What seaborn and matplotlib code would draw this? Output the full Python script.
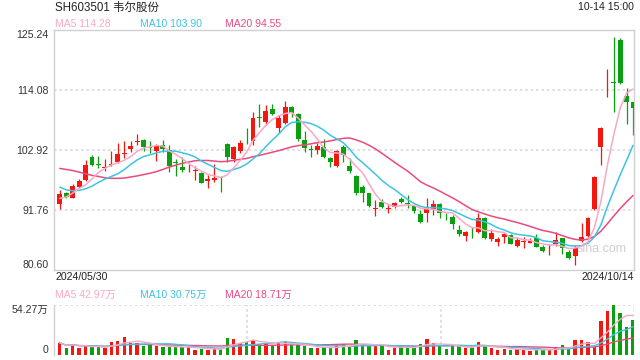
import numpy as np
import pandas as pd
import seaborn as sns
import matplotlib
matplotlib.use("Agg")
import matplotlib.pyplot as plt

# daily candles SH603501, 2024/05/30 .. 2024/10/14 (90 trading days)
opens = [92.88, 94.86, 94.05, 96.04, 97.28, 101.56, 100.32, 99.63, 100.13, 100.75,
         102.18, 103.11, 104.35, 104.78, 103.42, 102.73, 103.85, 102.92, 100.62, 99.76,
         99.14, 99.01, 98.58, 97.22, 97.34, 97.84, 104.04, 101.25, 102.73, 105.59,
         104.66, 109.00, 108.07, 110.55, 107.07, 108.00, 110.98, 109.62, 104.78, 103.11,
         102.92, 103.42, 101.49, 99.94, 103.42, 99.94, 98.08, 96.10, 94.86, 92.01,
         93.31, 92.01, 92.38, 93.81, 93.06, 92.50, 91.01, 91.26, 91.95, 92.81,
         90.71, 90.52, 88.04, 86.92, 87.92, 87.61, 90.33, 86.37, 85.87, 86.68,
         87.11, 85.13, 85.81, 85.68, 86.49, 84.82, 85.00, 85.44, 86.49, 83.89,
         83.27, 85.99, 86.99, 91.95, 103.54, 117.90, 115.51, 123.38, 112.96, 111.79]
highs = [95.48, 95.17, 96.60, 97.53, 101.06, 101.99, 101.81, 101.18, 102.73, 104.28,
         104.53, 104.66, 105.90, 104.97, 104.66, 103.97, 104.72, 103.85, 101.20, 101.68,
         100.40, 100.00, 98.90, 98.27, 100.32, 98.08, 104.16, 103.66, 104.78, 106.95,
         110.05, 111.41, 111.29, 111.48, 109.43, 112.03, 111.17, 109.74, 106.45, 103.85,
         104.16, 104.90, 101.68, 102.92, 103.85, 101.37, 98.27, 96.41, 94.98, 93.62,
         93.75, 92.69, 93.31, 94.24, 94.55, 92.69, 91.76, 94.05, 93.62, 93.00,
         91.26, 90.83, 88.97, 87.85, 88.66, 91.14, 90.40, 88.16, 86.80, 87.42,
         87.23, 86.80, 86.80, 86.49, 87.23, 85.25, 85.37, 87.61, 86.61, 84.32,
         85.25, 89.28, 90.52, 98.15, 107.14, 118.05, 124.00, 123.69, 114.51, 111.91]
lows = [92.01, 93.93, 93.93, 95.79, 97.15, 99.94, 99.63, 99.08, 99.94, 100.44,
        101.49, 102.55, 103.79, 102.73, 102.30, 100.87, 102.61, 98.89, 98.00, 98.89,
        98.75, 97.40, 96.72, 95.92, 97.03, 95.17, 100.75, 100.75, 102.30, 104.04,
        103.85, 107.26, 107.57, 109.37, 106.02, 107.76, 109.00, 104.66, 102.61, 101.68,
        102.18, 101.37, 99.82, 99.82, 100.75, 98.70, 94.55, 93.31, 92.38, 90.64,
        92.07, 91.26, 92.07, 93.00, 92.07, 91.26, 89.28, 89.59, 90.83, 90.21,
        89.90, 88.23, 86.99, 86.06, 86.49, 87.42, 86.37, 86.06, 85.13, 85.56,
        85.44, 84.94, 84.75, 85.56, 84.82, 84.01, 83.39, 85.13, 83.51, 82.65,
        81.53, 85.87, 86.80, 91.76, 100.13, 112.84, 110.05, 115.13, 107.69, 105.71]
closes = [94.67, 94.12, 96.16, 97.15, 100.13, 100.13, 100.19, 99.82, 100.38, 102.18,
          102.42, 103.66, 104.59, 103.54, 103.29, 103.73, 103.11, 100.01, 100.50, 99.17,
          99.26, 99.14, 96.84, 97.46, 97.77, 97.71, 101.68, 103.42, 104.28, 105.46,
          108.81, 108.87, 110.17, 109.55, 108.93, 110.98, 109.86, 104.97, 103.23, 102.98,
          103.66, 101.68, 100.75, 102.73, 101.99, 99.01, 94.86, 94.98, 92.50, 92.13,
          92.26, 92.13, 93.00, 93.31, 92.94, 91.64, 89.59, 92.38, 92.81, 91.14,
          90.58, 89.16, 87.30, 87.61, 87.79, 90.33, 86.49, 87.54, 86.37, 87.23,
          85.44, 86.18, 85.93, 85.99, 84.94, 84.20, 85.13, 86.18, 84.63, 82.77,
          84.75, 86.68, 90.33, 97.84, 106.95, 118.05, 115.38, 115.32, 111.91, 110.67]
# volume, 万
volumes = [13.2, 7.9, 11.8, 7.9, 9.6, 8.2, 8.2, 7.9, 14.3, 15.4,
           19.6, 12.5, 13.2, 9.6, 10.7, 9.6, 8.2, 8.9, 8.2, 8.9,
           8.9, 5.4, 6.4, 5.4, 7.1, 6.4, 18.9, 17.9, 13.2, 14.3,
           16.8, 11.8, 13.2, 10.7, 13.2, 14.3, 10.7, 10.7, 9.6, 7.1,
           7.1, 8.2, 7.9, 10.7, 11.8, 8.9, 16.1, 11.8, 9.6, 9.6,
           9.6, 5.4, 7.9, 9.6, 9.6, 7.9, 11.8, 17.9, 12.5, 9.6,
           6.4, 9.6, 9.6, 7.9, 7.9, 13.9, 9.6, 7.9, 5.4, 6.4,
           5.8, 6.4, 5.8, 4.8, 5.8, 5.8, 5.8, 8.6, 11.0, 6.9,
           16.1, 16.1, 14.3, 8.9, 37.2, 47.5, 54.27, 45.3, 30.3, 37.5]

# moving averages at the left edge (they depend on days before the window)
ma5_head = [93.9, 94.2, 94.9, 95.8]
ma10_head = [96.0, 95.5, 95.35, 95.4, 95.7, 96.2, 96.9, 97.5, 98.0]
ma20_head = [99.5, 99.3, 99.1, 98.8, 98.5, 98.2, 98.0, 97.75, 97.65, 97.65,
             97.7, 97.9, 98.1, 98.35, 98.6, 98.9, 99.3, 99.75, 100.1]

price_ticks = [80.60, 91.76, 102.92, 114.08, 125.24]
vol_max = 54.27
title = "SH603501 韦尔股份"
stamp = "10-14 15:00"
first_date, last_date = "2024/05/30", "2024/10/14"
price_legend = ["MA5 114.28", "MA10 103.90", "MA20 94.55"]
vol_legend = ["MA5 42.97万", "MA10 30.75万", "MA20 18.71万"]

RED, GREEN = "#f2180f", "#0a9f0f"
MA_COLORS = ["#f9a8c6", "#3cc4e4", "#ea4a7e"]
FRAME = "#d0d0d0"
GRID = "#dcdcdc"

sns.set_style("white")
plt.rcParams["font.family"] = ["Liberation Sans", "Noto Sans CJK SC"]

df = pd.DataFrame({"o": opens, "h": highs, "l": lows, "c": closes, "v": volumes})
df["i"] = np.arange(len(df))
df["up"] = np.where(df["c"] >= df["o"], "up", "down")
colors = np.where(df["up"] == "up", RED, GREEN)

ma5 = df["c"].rolling(5).mean().to_numpy()
ma10 = df["c"].rolling(10).mean().to_numpy()
ma20 = df["c"].rolling(20).mean().to_numpy()
ma5[:len(ma5_head)] = ma5_head
ma10[:len(ma10_head)] = ma10_head
ma20[:len(ma20_head)] = ma20_head

W, H = 640, 360
fig = plt.figure(figsize=(6.4, 3.6), dpi=100)
ax = fig.add_axes([54 / W, 90 / H, 580 / W, 240 / H])
axv = fig.add_axes([54 / W, 5 / H, 580 / W, 50 / H])
xlim = (-0.9, 89.15)

# price panel
ax.text(0.945, 0.088, "sina.com", transform=ax.transAxes, ha="center", va="center",
        fontsize=9, color="#cfcfcf", zorder=1)
ax.vlines(df["i"], df["l"], df["h"], colors=colors, lw=0.9, zorder=2)
body = (df["c"] - df["o"]).abs().clip(lower=0.15)
ax.bar(df["i"], body, bottom=df[["o", "c"]].min(axis=1), width=0.76,
       color=colors, linewidth=0, zorder=3)
for ma, col in zip([ma20, ma10, ma5], MA_COLORS[::-1]):
    sns.lineplot(x=df["i"], y=ma, color=col, lw=1.1, ax=ax, zorder=4)

ax.set_xlim(*xlim)
ax.set_ylim(price_ticks[0], price_ticks[-1])
ax.set_xticks([])
ax.set_yticks(price_ticks)
ax.set_yticklabels([f"{t:.2f}" for t in price_ticks])
labs = ax.get_yticklabels()
labs[0].set_va("bottom")
labs[-1].set_va("top")
ax.tick_params(axis="y", length=0, pad=4, labelsize=7.6, labelcolor="#333333")
ax.set_xlabel("")
ax.set_ylabel("")
for t in price_ticks[1:-1]:
    ax.axhline(t, color=GRID, lw=1.3, ls=(0, (1.4, 1.6)), zorder=1)
for s in ax.spines.values():
    s.set_color(FRAME)
    s.set_linewidth(1.0)

# volume panel
sns.barplot(x=df["i"], y=df["v"], hue=df["up"], palette={"up": RED, "down": GREEN},
            native_scale=True, width=0.52, dodge=False, legend=False, saturation=1,
            errorbar=None, linewidth=0, ax=axv)
for n, col in zip([20, 10, 5], MA_COLORS[::-1]):
    sns.lineplot(x=df["i"], y=df["v"].rolling(n, min_periods=1).mean(),
                 color=col, lw=1.0, ax=axv)
axv.set_xlim(*xlim)
axv.set_ylim(0, vol_max)
axv.set_xticks([])
axv.set_yticks([0, vol_max])
axv.set_yticklabels(["0", f"{vol_max:.2f}万"])
vl = axv.get_yticklabels()
vl[0].set_va("bottom")
vl[1].set_va("top")
axv.tick_params(axis="y", length=0, pad=4, labelsize=7.6, labelcolor="#333333")
axv.set_xlabel("")
axv.set_ylabel("")
for s in ["top", "right", "bottom"]:
    axv.spines[s].set_visible(False)
axv.spines["left"].set_color(FRAME)
axv.spines["left"].set_linewidth(1.0)
dot = dict(color=GRID, lw=1.3, ls=(0, (1.4, 1.6)), zorder=0)
axv.axhline(vol_max, **dot)
span = xlim[1] - xlim[0]
for k in (1, 2, 3):
    axv.axvline(xlim[0] + span * k / 3, **dot)

# texts
def fx(px):
    return px / W

def fy(py):
    return 1 - py / H

fig.text(fx(55), fy(7.5), title, fontsize=8.3, color="#222222", va="center")
fig.text(fx(634), fy(7.5), stamp, fontsize=7.6, color="#222222", va="center", ha="right")
for txt, x, col in zip(price_legend, [55, 140.5, 225], MA_COLORS):
    fig.text(fx(x), fy(24), txt, fontsize=7.5, color=col, va="center")
fig.text(fx(55), fy(277.5), first_date, fontsize=7.6, color="#222222", va="center")
fig.text(fx(634), fy(277.5), last_date, fontsize=7.6, color="#222222", va="center", ha="right")
for txt, x, col in zip(vol_legend, [55, 140.5, 225], MA_COLORS):
    fig.text(fx(x), fy(294.5), txt, fontsize=7.5, color=col, va="center")

fig.savefig("out.png", dpi=100)
